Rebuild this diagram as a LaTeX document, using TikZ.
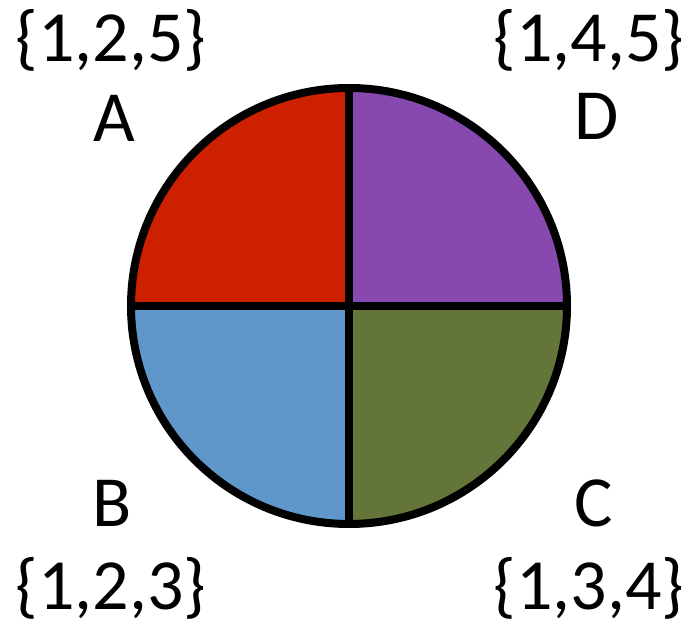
\documentclass[tikz,border=0pt]{standalone}
\usepackage{fontspec}
\setmainfont{Carlito}
\definecolor{qred}{HTML}{CC2000}
\definecolor{qpurple}{HTML}{8749B0}
\definecolor{qblue}{HTML}{5F97CB}
\definecolor{qgreen}{HTML}{637538}

\begin{document}
\begin{tikzpicture}[
    x=1pt, y=1pt,
    lbl/.style={anchor=base, inner sep=0pt, font=\fontsize{72}{82}\selectfont},
    edge/.style={line width=8pt}
]
\useasboundingbox (0,0) rectangle (694,627);

% Centro y extremos
\coordinate (O) at (349,321);
\coordinate (top) at (349,539);
\coordinate (bot) at (349,103);
\coordinate (left) at (131,321);
\coordinate (right) at (567,321);

% Cuadrantes
\fill[qred]    (O) -- (left)  arc[start angle=180, end angle=90,  radius=218] -- cycle;
\fill[qpurple] (O) -- (top)   arc[start angle=90,  end angle=0,   radius=218] -- cycle;
\fill[qgreen]  (O) -- (right) arc[start angle=0,   end angle=-90, radius=218] -- cycle;
\fill[qblue]   (O) -- (bot)   arc[start angle=270, end angle=180, radius=218] -- cycle;

% Bordes
\draw[edge] (O) circle[radius=218];
\draw[edge] (top) -- (bot);
\draw[edge] (left) -- (right);

% Etiquetas
\node[lbl] (setA) at (111,565) {\{1,2,5\}};
\node[lbl] (A)    at (114,485) {A};
\node[lbl] (setD) at (589,565) {\{1,4,5\}};
\node[lbl] (D)    at (597,487) {D};
\node[lbl] (B)    at (112,100) {B};
\node[lbl] (setB) at (111,17)  {\{1,2,3\}};
\node[lbl] (C)    at (594,100) {C};
\node[lbl] (setC) at (589,17)  {\{1,3,4\}};

\end{tikzpicture}
\end{document}
